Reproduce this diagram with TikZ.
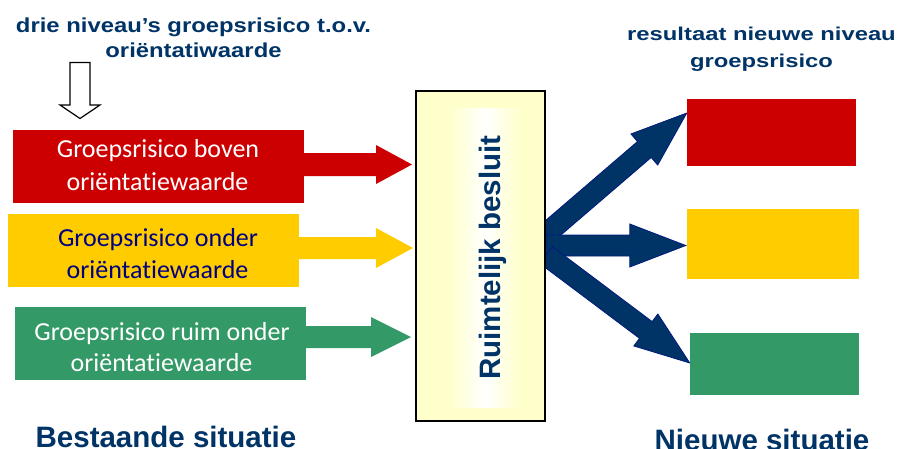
\documentclass[tikz,border=0pt]{standalone}
\usepackage{fontspec}
\usepackage{graphicx}
\setmainfont{Liberation Sans}
\newfontfamily\calib[RawFeature={-liga}]{Carlito}
\usetikzlibrary{calc,backgrounds}
\definecolor{gsred}{HTML}{CC0000}
\definecolor{gsyellow}{HTML}{FFCC00}
\definecolor{gsgreen}{HTML}{339966}
\definecolor{navytext}{HTML}{003366}
\definecolor{darknavy}{HTML}{000080}
\definecolor{ltyellow}{HTML}{FFFFCC}
\definecolor{arrowfill}{HTML}{003366}
\definecolor{arrowedge}{HTML}{001A80}

% #1 start, #2 end, #3 half shaft width, #4 half head width, #5 head length, #6 style
\newcommand\fatarrow[6]{%
  \coordinate (fa-h) at ($(#2)!#5pt!(#1)$);
  \path[#6] ($(#1)!#3pt!90:(#2)$) -- ($(fa-h)!#3pt!90:(#2)$) -- ($(fa-h)!#4pt!90:(#2)$)
    -- (#2) -- ($(fa-h)!#4pt!-90:(#2)$) -- ($(fa-h)!#3pt!-90:(#2)$)
    -- ($(#1)!#3pt!-90:(#2)$) -- cycle;
}

\tikzset{
  inbox/.style={minimum width=291pt, minimum height=73pt, inner sep=0pt, draw=none},
  outbox/.style={inner sep=0pt, draw=none},
  boxtxt/.style={font=\calib\fontsize{26}{32}\selectfont, anchor=base, inner sep=0pt},
  ttl/.style={text=navytext, anchor=base, inner sep=0pt},
  sit/.style={font=\fontsize{29.5}{34}\selectfont\bfseries, text=navytext, anchor=base, inner sep=0pt},
  inarrow/.style={fill=#1},
  outarrow/.style={fill=arrowfill, draw=arrowedge, line width=0.8pt, line join=miter},
}

\begin{document}
\begin{tikzpicture}[x=1pt, y=-1pt]
\useasboundingbox (0,0) rectangle (900,448);
\begin{pgfonlayer}{background}
\fill[white] (0,0) rectangle (900,448);
\end{pgfonlayer}

% titles
\node[ttl] (title1) at (193.5,32) {\fontsize{20.2}{24}\selectfont\bfseries\scalebox{1.18}[1]{drie niveau’s groepsrisico t.o.v.}};
\node[ttl] (title2) at (193.5,57) {\fontsize{20.2}{24}\selectfont\bfseries\scalebox{1.18}[1]{oriëntatiwaarde}};
\node[ttl] (title3) at (761.5,40) {\fontsize{18.6}{22}\selectfont\bfseries\scalebox{1.28}[1]{resultaat nieuwe niveau}};
\node[ttl] (title4) at (761.5,67) {\fontsize{18.6}{22}\selectfont\bfseries\scalebox{1.28}[1]{groepsrisico}};

% hollow down arrow
\draw[line width=1.2pt, fill=white, line join=miter] (70,62.5) -- (90,62.5) -- (90,105) -- (100,105)
  -- (80,118.5) -- (60,105) -- (70,105) -- cycle;

% left boxes
\node[inbox, fill=gsred] (redL) at (158.5,166.5) {};
\node[inbox, fill=gsyellow] (yelL) at (153.5,250.5) {};
\node[inbox, fill=gsgreen] (grnL) at (160.5,343.5) {};

\node[boxtxt, text=white] (redL1) at (158,157.7) {Groepsrisico boven};
\node[boxtxt, text=white] (redL2) at (157.5,190) {oriëntatiewaarde};
\node[boxtxt, text=darknavy] (yelL1) at (158,246.7) {Groepsrisico onder};
\node[boxtxt, text=darknavy] (yelL2) at (157.5,278) {oriëntatiewaarde};
\node[boxtxt, text=white] (grnL1) at (162,340) {Groepsrisico ruim onder};
\node[boxtxt, text=white] (grnL2) at (161.5,371.7) {oriëntatiewaarde};

% decision box
\node[draw=black, line width=2pt, fill=ltyellow, minimum width=129pt, minimum height=330pt, inner sep=0pt] (besluit) at (480.5,256) {};
\shade[left color=ltyellow, right color=ltyellow, middle color=white] (450,108) rectangle (520,407);
\node[font=\fontsize{29.5}{34}\selectfont\bfseries, text=navytext, rotate=90, anchor=base, inner sep=0pt] (besluitTxt) at (500,257.5) {Ruimtelijk besluit};

% right boxes
\node[outbox, fill=gsred, minimum width=169pt, minimum height=67pt] (redR) at (771.5,132.5) {};
\node[outbox, fill=gsyellow, minimum width=172pt, minimum height=70pt] (yelR) at (773,244) {};
\node[outbox, fill=gsgreen, minimum width=169pt, minimum height=62pt] (grnR) at (774.5,364) {};

% input arrows
\coordinate (ra0) at ($(redL.east)+(0,-2)$);
\coordinate (ra1) at ($(besluit.west |- redL.east)+(-3,-2)$);
\coordinate (ya0) at ($(yelL.east)+(0,-2.5)$);
\coordinate (ya1) at ($(besluit.west |- yelL.east)+(-2,-2.5)$);
\coordinate (ga0) at ($(grnL.east)+(0,-6.5)$);
\coordinate (ga1) at ($(besluit.west |- grnL.east)+(-4,-6.5)$);
\fatarrow{ra0}{ra1}{11.5}{19.5}{36}{inarrow=gsred}
\fatarrow{ya0}{ya1}{11}{20}{37}{inarrow=gsyellow}
\fatarrow{ga0}{ga1}{11}{20}{40}{inarrow=gsgreen}

% output arrows (behind the decision box)
\begin{pgfonlayer}{background}
\coordinate (ua0) at ($(besluit.east)+(0,-22)$);
\coordinate (ua1) at ($(redR.west)+(0,-19.5)$);
\coordinate (ma0) at ($(besluit.east)+(-2,-10.5)$);
\coordinate (ma1) at ($(yelR.west)+(-1,1.5)$);
\coordinate (la0) at ($(besluit.east)+(0,-1)$);
\coordinate (la1) at ($(grnR.west)+(0,-1)$);
\fatarrow{ua0}{ua1}{10.5}{20.5}{56}{outarrow}
\fatarrow{ma0}{ma1}{10.5}{21.5}{56}{outarrow}
\fatarrow{la0}{la1}{10.5}{20}{55}{outarrow}
\end{pgfonlayer}

% bottom labels
\node[sit] (bestaand) at (166,447) {Bestaande situatie};
\node[sit] (nieuw) at (762,450) {Nieuwe situatie};
\end{tikzpicture}
\end{document}
